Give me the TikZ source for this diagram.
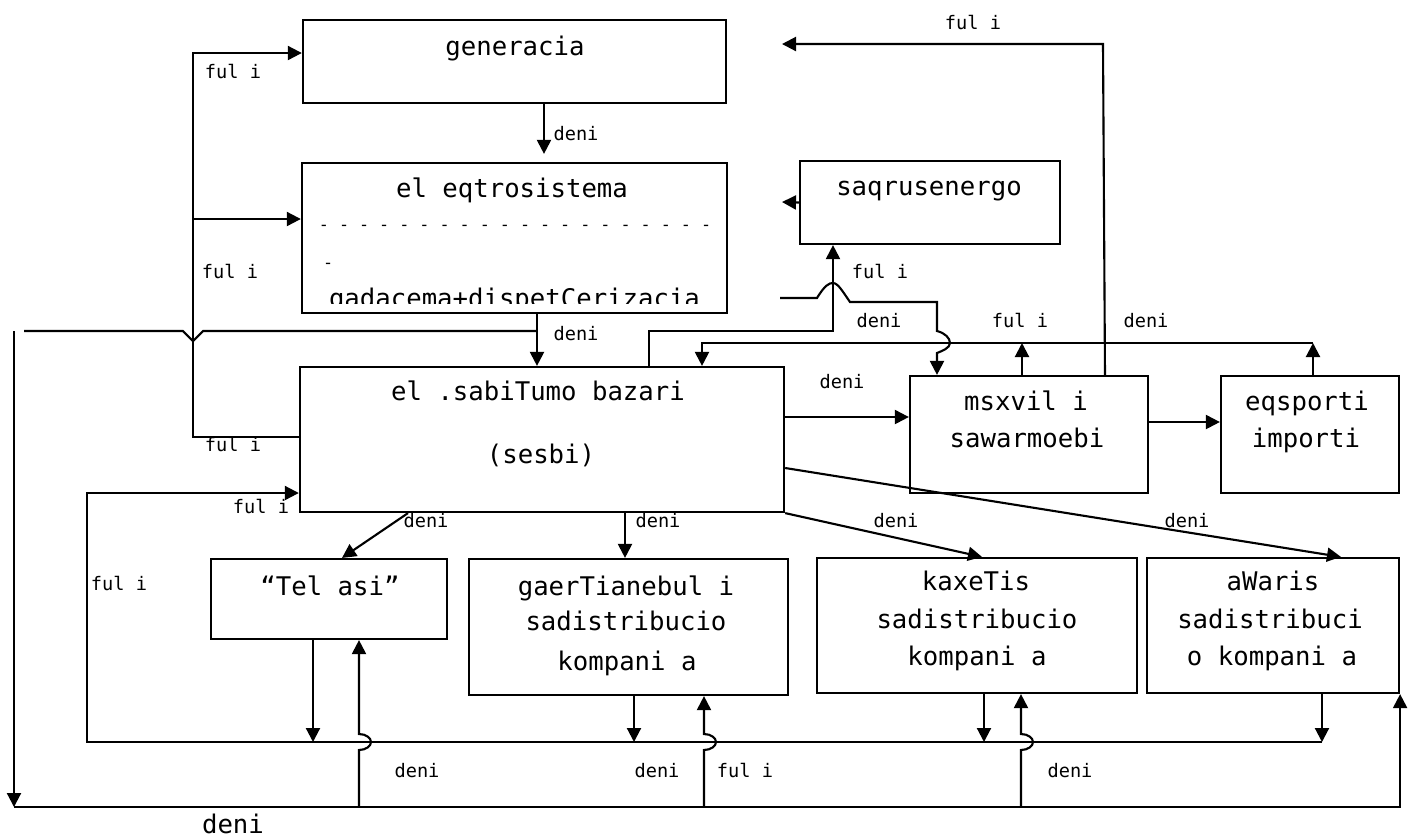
\documentclass[tikz,border=0pt]{standalone}
\usepackage{fontspec}
\newfontfamily\boxfont{DejaVu Sans Mono}
\usetikzlibrary{arrows.meta}

\begin{document}
\begin{tikzpicture}[x=0.01cm, y=-0.01cm, line width=0.6pt,
    box/.style={draw, rectangle, inner sep=0pt},
    txt/.style={font=\boxfont\fontsize{7.3}{8}\selectfont, inner sep=0pt, anchor=base},
    lbl/.style={font=\boxfont\fontsize{5.3}{6}\selectfont, inner sep=0pt, anchor=base},
    dsh/.style={font=\boxfont\fontsize{4.75}{6}\selectfont, inner sep=0pt, anchor=base},
    arr/.style={-{Triangle[length=0.14cm, width=0.14cm]}}]
  \useasboundingbox (0,0) rectangle (1411,838);

  % boxes
  \node[box, minimum width=4.23cm, minimum height=0.83cm] (gen) at (514.5,61.5) {};
  \node[box, minimum width=4.25cm, minimum height=1.5cm] (els) at (514.5,238) {};
  \node[box, minimum width=2.6cm, minimum height=0.83cm] (saq) at (930,202.5) {};
  \node[box, minimum width=4.84cm, minimum height=1.45cm] (ses) at (542,439.5) {};
  \node[box, minimum width=2.38cm, minimum height=1.17cm] (msx) at (1029,434.5) {};
  \node[box, minimum width=1.78cm, minimum height=1.17cm] (eqs) at (1310,434.5) {};
  \node[box, minimum width=2.36cm, minimum height=0.8cm] (tel) at (329,599) {};
  \node[box, minimum width=3.19cm, minimum height=1.36cm] (gaer) at (628.5,627) {};
  \node[box, minimum width=3.2cm, minimum height=1.35cm] (kax) at (977,625.5) {};
  \node[box, minimum width=2.52cm, minimum height=1.35cm] (awa) at (1273,625.5) {};

  % box texts
  \node[txt] (gen-t) at (515,55) {generacia};
  \node[txt] (els-t1) at (512,197) {el eqtrosistema};
  \node[dsh] (els-t2) at (515,230) {- - - - - - - - - - - - - - - - - - - -};
  \node[dsh, anchor=base west] (els-t3) at (322,268) {-};
  \begin{scope}
    \clip (303,280) rectangle (726,303);
    \node[txt] (els-t4) at (514.5,307) {gadacema+dispetCerizacia};
  \end{scope}
  \node[txt] (saq-t) at (929,195) {saqrusenergo};
  \node[txt] (ses-t1) at (538,400) {el .sabiTumo bazari};
  \node[txt] (ses-t2) at (541,463) {(sesbi)};
  \node[txt] (msx-t1) at (1026,410) {msxvil i};
  \node[txt] (msx-t2) at (1027,447) {sawarmoebi};
  \node[txt] (eqs-t1) at (1307,410) {eqsporti};
  \node[txt] (eqs-t2) at (1306,447) {importi};
  \node[txt] (tel-t) at (330,595) {“Tel asi”};
  \node[txt] (gaer-t1) at (626,595) {gaerTianebul i};
  \node[txt] (gaer-t2) at (626,630) {sadistribucio};
  \node[txt] (gaer-t3) at (627,670) {kompani a};
  \node[txt] (kax-t1) at (976,590) {kaxeTis};
  \node[txt] (kax-t2) at (977,628) {sadistribucio};
  \node[txt] (kax-t3) at (977,665) {kompani a};
  \node[txt] (awa-t1) at (1273,590) {aWaris};
  \node[txt] (awa-t2) at (1270,628) {sadistribuci};
  \node[txt] (awa-t3) at (1272,665) {o kompani a};

  % free ends
  \coordinate (lft) at (24,331);
  \coordinate (dn) at (14,331);
  \coordinate (gen-in) at (782,44);
  \coordinate (saq-out) at (782,202);
  \coordinate (els-out) at (780,298);

  % top part
  \draw[arr, shorten >=0.08cm] (gen.south -| 544,0) -- (els.north -| 544,0);
  \draw[arr] (ses.west |- 0,437) -| (193,53) -- (gen.west |- 0,53);
  \draw[arr] (193,219) -- (els.west |- 0,219);
  \draw[arr] (els.south -| 537,0) -- (ses.north -| 537,0);
  \draw (lft) -- (183,331) -- (193,341) -- (203,331) -- (537,331);
  \draw[arr] (dn) -- (14,807);
  \draw[arr] (msx.north -| 1105,0) -- (1103,44) -- (gen-in);
  \draw[arr] (saq.west) -- (saq-out);
  \draw[arr] (ses.north -| 649,0) |- (833,331) -- (saq.south -| 833,0);
  \draw[arr] (els-out) -- (817,298) .. controls (825,285) and (829,283) .. (833,283)
    .. controls (838,283) and (843,292) .. (850,302) -- (937,302) -- (937,331)
    .. controls (945,333) and (950,338) .. (950,343)
    .. controls (950,348) and (942,351) .. (937,353) -- (msx.north -| 937,0);
  \draw[arr] (msx.north -| 1022,0) -- (1022,343);
  \draw[arr] (eqs.north -| 1313,0) -- (1313,343);
  \draw[arr] (1313,343) -- (702,343) -- (ses.north -| 702,0);

  % sesbi outputs
  \draw[arr] (ses.east |- 0,417) -- (msx.west |- 0,417);
  \draw[arr] (msx.east |- 0,422) -- (eqs.west |- 0,422);
  \draw[arr] (ses.south -| 408,0) -- (tel.north -| 342,0);
  \draw[arr] (ses.south -| 625,0) -- (gaer.north -| 625,0);
  \draw[arr] (ses.south east) -- (kax.north -| 982,0);
  \draw[arr] (ses.east |- 0,468) -- (awa.north -| 1341,0);

  % fuli bus
  \draw[arr] (tel.south -| 313,0) -- (313,742);
  \draw[arr] (gaer.south -| 634,0) -- (634,742);
  \draw[arr] (kax.south -| 984,0) -- (984,742);
  \draw[arr] (awa.south -| 1322,0) -- (1322,742);
  \draw[arr] (1322,742) -- (87,742) |- (ses.west |- 0,493);

  % deni bus
  \draw[arr] (14,807) -| (awa.south east);
  \draw[arr] (359,807) -- (359,750) .. controls (366,750) and (371,746) .. (371,742)
    .. controls (371,738) and (366,734) .. (359,734) -- (tel.south -| 359,0);
  \draw[arr] (704,807) -- (704,750) .. controls (711,750) and (716,746) .. (716,742)
    .. controls (716,738) and (711,734) .. (704,734) -- (gaer.south -| 704,0);
  \draw[arr] (1021,807) -- (1021,750) .. controls (1028,750) and (1033,746) .. (1033,742)
    .. controls (1033,738) and (1028,734) .. (1021,734) -- (kax.south -| 1021,0);

  % labels
  \node[lbl] (f1) at (973,29) {ful i};
  \node[lbl] (f2) at (233,78) {ful i};
  \node[lbl] (d1) at (576,140) {deni};
  \node[lbl] (f3) at (230,278) {ful i};
  \node[lbl] (d2) at (576,340) {deni};
  \node[lbl] (f4) at (233,451) {ful i};
  \node[lbl] (f5) at (261,513) {ful i};
  \node[lbl] (f6) at (119,590) {ful i};
  \node[lbl] (d3) at (426,527) {deni};
  \node[lbl] (d4) at (658,527) {deni};
  \node[lbl] (d5) at (896,527) {deni};
  \node[lbl] (d6) at (1187,527) {deni};
  \node[lbl] (d7) at (842,388) {deni};
  \node[lbl] (f7) at (880,278) {ful i};
  \node[lbl] (d8) at (879,327) {deni};
  \node[lbl] (f8) at (1020,327) {ful i};
  \node[lbl] (d9) at (1146,327) {deni};
  \node[lbl] (d10) at (417,777) {deni};
  \node[lbl] (d11) at (657,777) {deni};
  \node[lbl] (f9) at (745,777) {ful i};
  \node[lbl] (d12) at (1070,777) {deni};
  \node[txt] (d13) at (233,833) {deni};
\end{tikzpicture}
\end{document}
